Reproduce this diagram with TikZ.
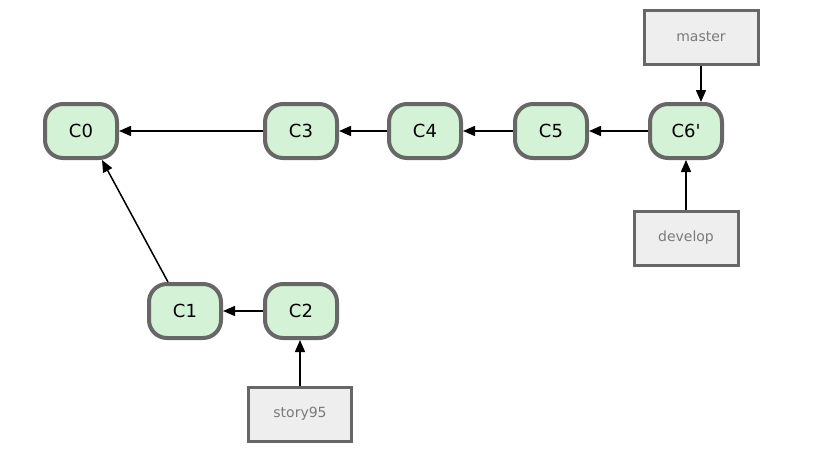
\documentclass[tikz,border=0pt]{standalone}
\usepackage{fontspec}
\setmainfont{DejaVu Sans}
\usetikzlibrary{arrows.meta}
\definecolor{commitfill}{HTML}{D4F2D5}
\definecolor{edgegray}{HTML}{676767}
\definecolor{labelfill}{HTML}{EEEEEE}
\definecolor{labeltext}{HTML}{7A7A7A}
\tikzset{
  commit/.style={draw=edgegray, fill=commitfill, line width=4pt, rounded corners=18pt,
    minimum width=72pt, minimum height=54pt, inner sep=0pt, font=\fontsize{18}{20}\selectfont, text=black},
  branchlabel/.style={draw=edgegray, fill=labelfill, line width=3pt,
    minimum height=54pt, inner sep=0pt, font=\fontsize{14}{16}\selectfont, text=labeltext},
  link/.style={line width=1.5pt, -{Triangle[length=12pt,width=10pt]}}
}
\begin{document}
\begin{tikzpicture}[x=1pt,y=-1pt]
\useasboundingbox (0,0) rectangle (825,463);
\node[commit] (C0) at (81,131) {C0};
\node[commit] (C3) at (301,131) {C3};
\node[commit] (C4) at (425,131) {C4};
\node[commit] (C5) at (551,131) {C5};
\node[commit] (C6) at (686,131) {C6\textquotesingle};
\node[commit] (C1) at (185,311) {C1};
\node[commit] (C2) at (301,311) {C2};
\node[branchlabel, minimum width=114pt] (master) at (701,37) {master};
\node[branchlabel, minimum width=104pt] (develop) at (686,238) {develop};
\node[branchlabel, minimum width=103pt] (story) at (300,414) {story95};
\draw[link] (C3) -- (C0);
\draw[link] (C4) -- (C3);
\draw[link] (C5) -- (C4);
\draw[link] (C6) -- (C5);
\draw[link] (C2) -- (C1);
\draw[link] ([xshift=-17pt]C1.north) -- ([xshift=21pt]C0.south);
\draw[link] (master.south) -- (master.south |- C6.north);
\draw[link] (develop.north) -- (develop.north |- C6.south);
\draw[link] (story.north) -- (story.north |- C2.south);
\end{tikzpicture}
\end{document}
